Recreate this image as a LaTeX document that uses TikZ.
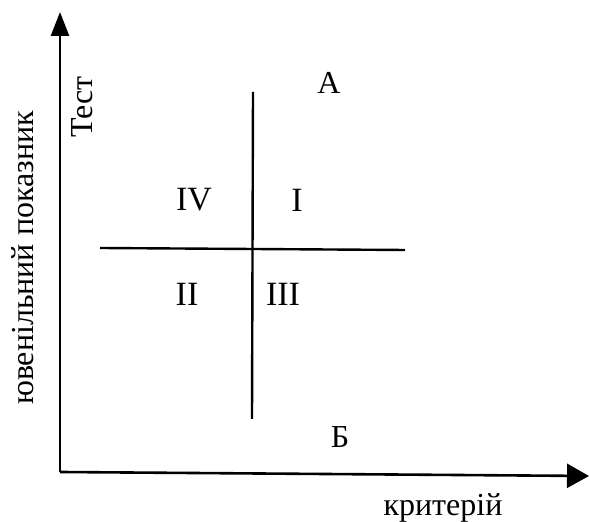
\documentclass[tikz,border=0pt]{standalone}
\usepackage{fontspec}
\setmainfont{Liberation Serif}
\usetikzlibrary{arrows.meta}
\tikzset{%
  axis/.style={line width=1.3pt},%
  split/.style={line width=1.2pt},%
  lbl/.style={font=\fontsize{16}{18}\selectfont,inner sep=0pt},%
  roman/.style={font=\fontsize{17}{19}\selectfont,inner sep=0pt}%
}
\begin{document}
\begin{tikzpicture}[x=0.5pt,y=-0.5pt]%
          \useasboundingbox (0,0) rectangle (590,522);%
          \coordinate (O) at (60,472);%
          \coordinate (Ytop) at (60,12);%
          \coordinate (Xend) at (589,476);%
          \coordinate (Vtop) at (253,92);%
          \coordinate (Vbot) at (252,419);%
          \coordinate (Hl) at (100,248);%
          \coordinate (Hr) at (405,250);%
          \draw [axis,-{Triangle[length=12pt,width=9pt]}] (O) to (Ytop);%
          \draw [axis,-{Triangle[length=11pt,width=12pt]}] (O) to (Xend);%
          \draw [split] (Vtop) to (Vbot);%
          \draw [split] (Hl) to (Hr);%
          \node [lbl] (A) at (329,83) {А};%
          \node [lbl] (B) at (340,437) {Б};%
          \node [roman] (q4) at (194,200) {IV};%
          \node [roman] (q1) at (297,200) {I};%
          \node [roman] (q2) at (187,294) {II};%
          \node [roman] (q3) at (283,294) {III};%
          \node [lbl,anchor=base] (xlab) at (443,516) {критерій};%
          \node [lbl,anchor=base,rotate=90] (ylab) at (33,258) {ювенільний показник};%
          \node [lbl,anchor=base,rotate=90] (test) at (92,107) {Тест};%
        \end{tikzpicture}
\end{document}
